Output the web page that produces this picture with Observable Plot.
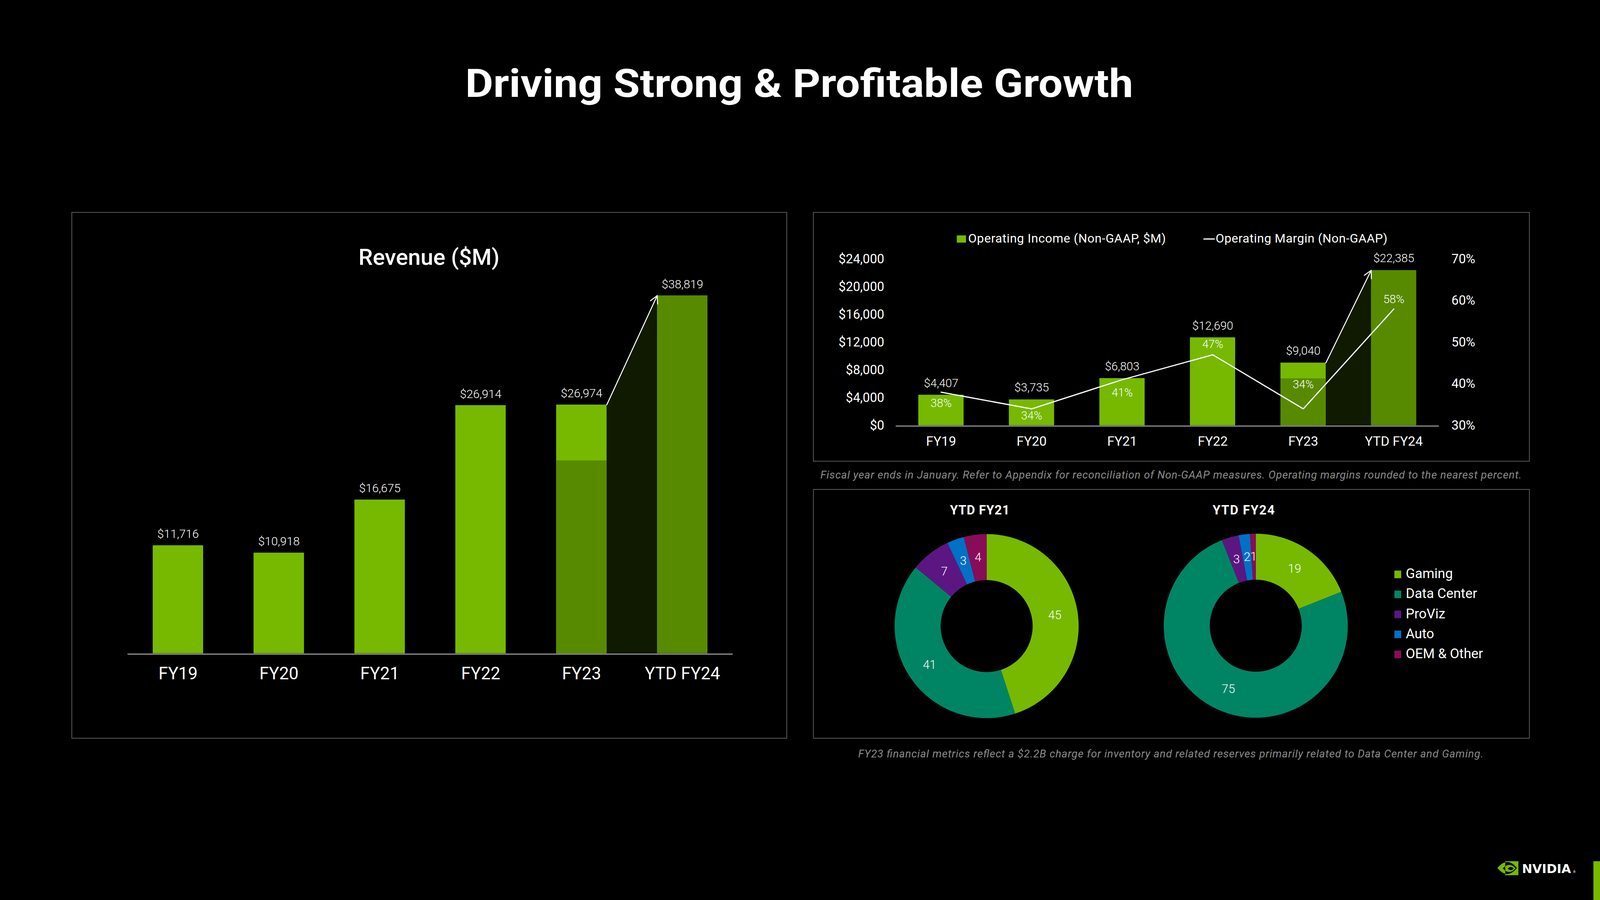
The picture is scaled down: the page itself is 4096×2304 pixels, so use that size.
<!DOCTYPE html>
<html>
<head>
<meta charset="utf-8">
<script src="https://cdn.jsdelivr.net/npm/d3@7"></script>
<script src="https://cdn.jsdelivr.net/npm/@observablehq/plot@0.6"></script>
<style>
  html, body { margin: 0; padding: 0; background: #000; overflow: hidden; }
  #slide { position: relative; width: 4096px; height: 2304px; background: #000; overflow: hidden; }
</style>
</head>
<body>
<div id="slide"></div>
<script>
// ---------------- data ----------------
const slideTitle = "Driving Strong & Profitable Growth";
const categories = ["FY19", "FY20", "FY21", "FY22", "FY23", "YTD FY24"];
const revenue = [11716, 10918, 16675, 26914, 26974, 38819];          // $M
const revenueYtdFY23 = 20923;                                         // comparable YTD part of FY23
const operatingIncome = [4407, 3735, 6803, 12690, 9040, 22385];      // Non-GAAP, $M
const operatingIncomeYtdFY23 = 6770;
const operatingMargin = [38, 34, 41, 47, 34, 58];                     // %
const incomeTicks = [0, 4000, 8000, 12000, 16000, 20000, 24000];
const marginTicks = [30, 40, 50, 60, 70];
const segments = ["Gaming", "Data Center", "ProViz", "Auto", "OEM & Other"];
const mixYtdFY21 = [45, 41, 7, 3, 4];
const mixYtdFY24 = [19, 75, 3, 2, 1];
const footnoteTop = "Fiscal year ends in January. Refer to Appendix for reconciliation of Non-GAAP measures. Operating margins rounded to the nearest percent.";
const footnoteBottom = "FY23 financial metrics reflect a $2.2B charge for inventory and related reserves primarily related to Data Center and Gaming.";

// ---------------- styles ----------------
const S = 4096 / 8000;           // reference → window
const u = v => v * S;
const GREEN = "#76b900", DARK = "#588a00", SHADE = "#0f1a00";
const AXIS = "#8f8f8f", BORDER = "#666666", NOTE = "#8c8c8c";
const segmentColors = ["#76b900", "#008564", "#5c1682", "#0071c5", "#890c58"];
const FONT = "Roboto, 'Noto Sans', sans-serif";
const fmt = d3.format(",");

const slide = document.getElementById("slide");
function mount(svg, x, y) {
  svg.style.position = "absolute";
  svg.style.left = u(x) + "px";
  svg.style.top = u(y) + "px";
  svg.style.background = "transparent";
  svg.style.color = "#fff";
  svg.style.fontFamily = FONT;
  svg.style.overflow = "visible";
  svg.style.maxWidth = "none";
  slide.appendChild(svg);
}

// ---------------- static layer (title, panels, legends, notes, logo) ----------------
const bg = d3.create("svg").attr("width", 4096).attr("height", 2304)
  .style("position", "absolute").style("left", 0).style("top", 0);
function txt(t, x, y, o = {}) {
  const e = bg.append("text").attr("x", u(x)).attr("y", u(y))
    .attr("font-family", o.family || FONT).attr("font-size", u(o.size || 60))
    .attr("font-weight", o.weight || 400).attr("font-style", o.style || "normal")
    .attr("text-anchor", o.anchor || "start").attr("fill", o.fill || "#fff").text(t);
  if (o.length) e.attr("textLength", u(o.length)).attr("lengthAdjust", o.adjust || "spacing");
  return e;
}
function box(x, y, w, h) {
  bg.append("rect").attr("x", u(x)).attr("y", u(y)).attr("width", u(w)).attr("height", u(h))
    .attr("fill", "none").attr("stroke", BORDER).attr("stroke-width", u(3.4));
}
txt(slideTitle, 3996, 485, {size: 196, weight: 700, anchor: "middle", length: 3340, adjust: "spacingAndGlyphs"});
box(359, 1062, 3575, 2629);
box(4067, 1062, 3580, 1244);
box(4067, 2447, 3580, 1244);
txt("Revenue ($M)", 2145, 1325, {size: 112, weight: 500, anchor: "middle", length: 705, adjust: "spacingAndGlyphs"});

// operating legend
bg.append("rect").attr("x", u(4784)).attr("y", u(1177)).attr("width", u(46)).attr("height", u(36)).attr("fill", GREEN);
txt("Operating Income (Non-GAAP, $M)", 4841, 1213, {size: 62, length: 988});
bg.append("line").attr("x1", u(6017)).attr("x2", u(6074)).attr("y1", u(1195)).attr("y2", u(1195))
  .attr("stroke", "#fff").attr("stroke-width", u(6));
txt("Operating Margin (Non-GAAP)", 6078, 1213, {size: 62, length: 859});

txt(footnoteTop, 5855, 2392, {size: 54, style: "italic", fill: NOTE, anchor: "middle", length: 3506});
txt(footnoteBottom, 5854, 3787, {size: 54, style: "italic", fill: NOTE, anchor: "middle", length: 3126});
txt("YTD FY21", 4899, 2572, {size: 64, weight: 700, anchor: "middle", length: 298});
txt("YTD FY24", 6218, 2572, {size: 64, weight: 700, anchor: "middle", length: 310});

// donut legend
segments.forEach((s, k) => {
  const cy = 2872 + k * 100;
  bg.append("rect").attr("x", u(6972)).attr("y", u(cy - 19)).attr("width", u(34)).attr("height", u(38)).attr("fill", segmentColors[k]);
  txt(s, 7029, cy + 19, {size: 68});
});

// NVIDIA logo + corner bar
const defs = bg.append("defs");
defs.append("clipPath").attr("id", "inBox").append("rect")
  .attr("x", u(7526)).attr("y", u(4306)).attr("width", u(66)).attr("height", u(70));
defs.append("clipPath").attr("id", "outBox").append("rect")
  .attr("x", u(7440)).attr("y", u(4280)).attr("width", u(86)).attr("height", u(130));
const lens = (cx, cy, hw, hh) =>
  `M${u(cx - hw)},${u(cy)} Q${u(cx)},${u(cy - 2 * hh)} ${u(cx + hw)},${u(cy)} Q${u(cx)},${u(cy + 2 * hh)} ${u(cx - hw)},${u(cy)} Z`;
bg.append("rect").attr("x", u(7526)).attr("y", u(4306)).attr("width", u(66)).attr("height", u(70)).attr("fill", GREEN);
[[7536, 4340, 49, 30, "#000", GREEN], [7546, 4342, 32, 18, GREEN, "#000"], [7554, 4343, 15, 8, "#000", GREEN]]
  .forEach(([cx, cy, hw, hh, inside, outside]) => {
    bg.append("path").attr("d", lens(cx, cy, hw, hh)).attr("fill", inside).attr("clip-path", "url(#inBox)");
    bg.append("path").attr("d", lens(cx, cy, hw, hh)).attr("fill", outside).attr("clip-path", "url(#outBox)");
  });
txt("NVIDIA", 7610, 4365, {size: 62, weight: 700, family: "'DejaVu Sans', sans-serif", length: 245});
txt("®", 7864, 4366, {size: 16, family: "'DejaVu Sans', sans-serif"});
bg.append("rect").attr("x", u(7967)).attr("y", u(4306)).attr("width", u(40)).attr("height", u(200)).attr("fill", GREEN);
slide.appendChild(bg.node());

// ---------------- shared bar geometry ----------------
const rows = categories.map((category, i) => ({
  category, i, revenue: revenue[i], income: operatingIncome[i], margin: operatingMargin[i],
  ytd: category.startsWith("YTD")
}));
const BAR = 0.5;                                   // bar width as a share of each slot
const barLeft = d => d.i + (1 - BAR) / 2;
const barRight = d => d.i + (1 + BAR) / 2;
const barMid = d => d.i + 0.5;
const fy23 = rows[categories.indexOf("FY23")];
const fy24 = rows[categories.indexOf("YTD FY24")];
const bridge = [{...fy23, edge: barRight(fy23)}, {...fy24, edge: barLeft(fy24)}];
const fy23Ytd = [{...fy23, revenue: revenueYtdFY23, income: operatingIncomeYtdFY23}];
const zero = () => 0;

// ---------------- revenue chart ----------------
const revPlot = Plot.plot({
  width: u(3575), height: u(2629),
  marginLeft: u(278), marginRight: u(271), marginTop: u(360), marginBottom: u(425),
  x: {domain: [0, categories.length], axis: null},
  y: {domain: [0, 40000], axis: null},
  color: {type: "identity"},
  marks: [
    Plot.area(bridge, {x1: "edge", y1: zero, y2: "revenue", fill: SHADE}),
    Plot.rect(rows, {x1: barLeft, x2: barRight, y1: zero, y2: "revenue", fill: d => d.ytd ? DARK : GREEN}),
    Plot.rect(fy23Ytd, {x1: barLeft, x2: barRight, y1: zero, y2: "revenue", fill: DARK}),
    Plot.ruleY([0], {stroke: AXIS, strokeWidth: u(6), dy: u(3)}),
    Plot.arrow([{from: fy23, to: fy24}], {
      x1: d => barRight(d.from), y1: d => d.from.revenue, x2: d => barLeft(d.to), y2: d => d.to.revenue,
      stroke: "#fff", strokeWidth: u(5), headLength: 12.6, headAngle: 55
    }),
    Plot.text(rows, {x: barMid, y: "revenue", text: d => "$" + fmt(d.revenue), dy: -u(37),
      lineAnchor: "bottom", fill: "#fff", fontSize: u(59), fontWeight: 300}),
    Plot.text(rows, {x: barMid, y: zero, text: "category", dy: u(130), lineAnchor: "bottom",
      fill: "#fff", fontSize: u(86)})
  ]
});
mount(revPlot, 359, 1062);

// ---------------- operating income / margin chart ----------------
const m0 = marginTicks[0], m1 = marginTicks[marginTicks.length - 1], yMax = incomeTicks[incomeTicks.length - 1];
const toY = m => (m - m0) / (m1 - m0) * yMax;      // margin axis mapped onto the income axis
const fromY = v => Math.round(m0 + v / yMax * (m1 - m0));
const marginLabelDy = {"FY19": 56, "FY20": 36, "FY21": 65, "FY22": -52, "FY23": -121, "YTD FY24": -47};

const opPlot = Plot.plot({
  width: u(3580), height: u(1244),
  marginLeft: u(412), marginRight: u(452), marginTop: u(232), marginBottom: u(180),
  x: {domain: [0, categories.length], axis: null},
  y: {domain: [0, yMax]},
  color: {type: "identity"},
  marks: [
    Plot.axisY({anchor: "left", ticks: incomeTicks, tickFormat: d => "$" + fmt(d), tickSize: 0,
      tickPadding: u(58), fontSize: u(64), label: null}),
    Plot.axisY({anchor: "right", ticks: marginTicks.map(toY), tickFormat: v => fromY(v) + "%", tickSize: 0,
      tickPadding: u(62), fontSize: u(64), label: null}),
    Plot.area(bridge, {x1: "edge", y1: zero, y2: "income", fill: SHADE}),
    Plot.rect(rows, {x1: barLeft, x2: barRight, y1: zero, y2: "income", fill: d => d.ytd ? DARK : GREEN}),
    Plot.rect(fy23Ytd, {x1: barLeft, x2: barRight, y1: zero, y2: "income", fill: DARK}),
    Plot.ruleY([0], {stroke: AXIS, strokeWidth: u(6), dy: u(3)}),
    Plot.line(rows, {x: barMid, y: d => toY(d.margin), stroke: "#fff", strokeWidth: u(6), strokeLinejoin: "miter"}),
    Plot.arrow([{from: fy23, to: fy24}], {
      x1: d => barRight(d.from), y1: d => d.from.income, x2: d => barLeft(d.to), y2: d => d.to.income,
      stroke: "#fff", strokeWidth: u(5), headLength: 12.6, headAngle: 55
    }),
    Plot.text(rows, {x: barMid, y: "income", text: d => "$" + fmt(d.income), dy: -u(40),
      lineAnchor: "bottom", fill: "#fff", fontSize: u(58), fontWeight: 300}),
    ...rows.map(d => Plot.text([d], {x: barMid, y: r => toY(r.margin), text: r => r.margin + "%",
      dy: u(marginLabelDy[d.category]), lineAnchor: "middle", fill: "#fff", fontSize: u(57), fontWeight: 300})),
    Plot.text(rows, {x: barMid, y: zero, text: "category", dy: u(102), lineAnchor: "bottom",
      fill: "#fff", fontSize: u(66)})
  ]
});
mount(opPlot, 4067, 1062);

// ---------------- segment donuts ----------------
const R = 460, PAD = 1.05, R_IN = 0.5, R_LABEL = 0.75;
function ring(a0, a1) {
  const n = Math.max(2, Math.ceil((a1 - a0) / (Math.PI / 180)));
  const pt = (a, r) => [r * Math.sin(a), -r * Math.cos(a)];
  const outer = d3.range(n + 1).map(k => pt(a0 + (a1 - a0) * k / n, 1));
  const inner = d3.range(n, -1, -1).map(k => pt(a0 + (a1 - a0) * k / n, R_IN));
  return {type: "Polygon", coordinates: [[...outer, ...inner, outer[0]]]};
}
function donut(values, cx, cy) {
  const total = d3.sum(values);
  const ends = Array.from(d3.cumsum(values));
  const slices = segments.map((segment, k) => ({
    segment, value: values[k], color: segmentColors[k],
    a0: (ends[k] - values[k]) / total * 2 * Math.PI,
    a1: ends[k] / total * 2 * Math.PI
  }));
  const midA = d => (d.a0 + d.a1) / 2;
  const p = Plot.plot({
    width: u(2 * R * PAD), height: u(2 * R * PAD), margin: 0,
    projection: {type: "identity", domain: {type: "MultiPoint", coordinates: [[-PAD, -PAD], [PAD, PAD]]}},
    color: {type: "identity"},
    marks: [
      Plot.geo(slices, {geometry: d => ring(d.a0, d.a1), fill: "color", stroke: "none"}),
      Plot.text(slices, {x: d => R_LABEL * Math.sin(midA(d)), y: d => -R_LABEL * Math.cos(midA(d)),
        text: d => String(d.value), fill: "#fff", fontSize: u(60), fontWeight: 300})
    ]
  });
  mount(p, cx - R * PAD, cy - R * PAD);
}
donut(mixYtdFY21, 4933, 3130);
donut(mixYtdFY24, 6278, 3127);
</script>
</body>
</html>
